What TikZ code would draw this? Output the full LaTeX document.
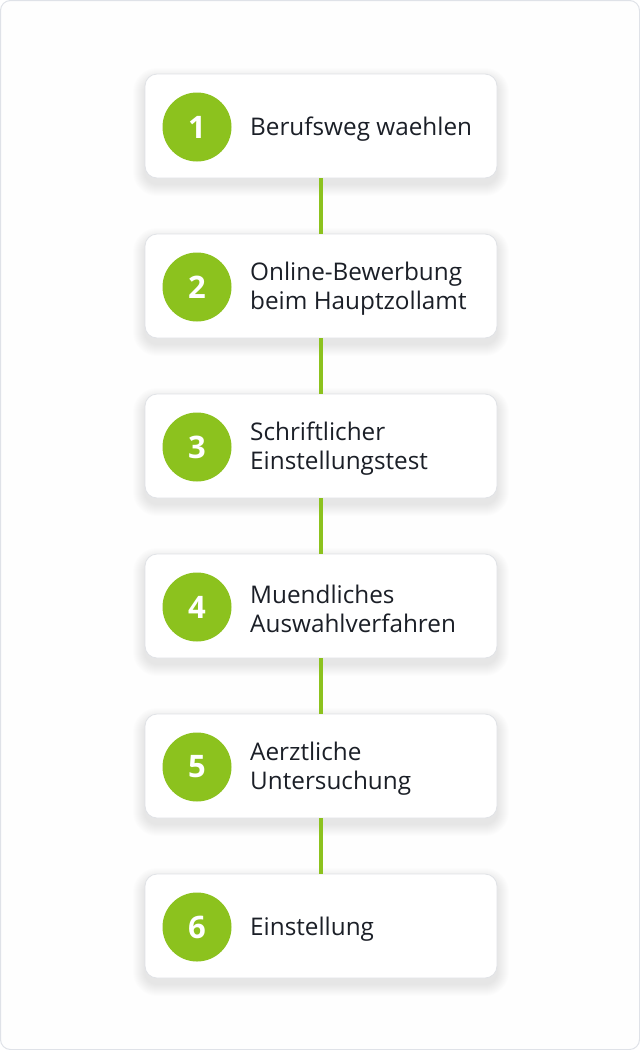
\documentclass[tikz,border=0pt]{standalone}
\usepackage{fontspec}
\setmainfont{Open Sans}
\definecolor{grn}{HTML}{8CC21E}
\definecolor{txt}{HTML}{1B1F27}
\definecolor{frame}{HTML}{DFE2E8}
\definecolor{boxline}{HTML}{E0E2E6}
\begin{document}
\begin{tikzpicture}[x=1pt,y=-1pt,
  stepcard/.style={draw=boxline, line width=0.8pt, fill=white, rounded corners=12pt,
    minimum width=352pt, minimum height=104pt, inner sep=0pt},
  numdot/.style={circle, fill=grn, minimum size=69pt, inner sep=0pt, text=white,
    font=\fontsize{31}{31}\selectfont\bfseries},
  steplabel/.style={anchor=west, align=left, text=txt, inner sep=0pt,
    font=\fontsize{24.3}{29}\selectfont},
  link/.style={draw=grn, line width=3.5pt},
  softshade/.style={fill=black, fill opacity=0.007, draw=none}
]
\useasboundingbox (0,0) rectangle (640,1050);
\draw[frame, fill=white!99!gray, line width=1pt, rounded corners=10pt] (0.5,0.5) rectangle (639.5,1049.5);
\foreach \i in {1,...,6}{
  \pgfmathsetmacro{\yy}{126+(\i-1)*160}
  \foreach \k in {1,...,12}{
    \fill[softshade, rounded corners=12pt+\k pt] (145-\k, \yy-52+6-\k) rectangle (497+\k, \yy+52+6+\k);
  }
}
\foreach \i/\t in {1/{Berufsweg waehlen},2/{Online-Bewerbung\\beim Hauptzollamt},3/{Schriftlicher\\Einstellungstest},4/{Muendliches\\Auswahlverfahren},5/{Aerztliche\\Untersuchung},6/{Einstellung}}{
  \pgfmathsetmacro{\yy}{126+(\i-1)*160}
  \node[stepcard] (card\i) at (321,\yy) {};
  \node[numdot] (num\i) at (197,\yy+1) {\i};
  \node[steplabel] (lab\i) at (250,\yy+3) {\t};
}
\foreach \a/\b in {1/2,2/3,3/4,4/5,5/6}{
  \draw[link] (card\a.south) -- (card\b.north);
}
\end{tikzpicture}
\end{document}
